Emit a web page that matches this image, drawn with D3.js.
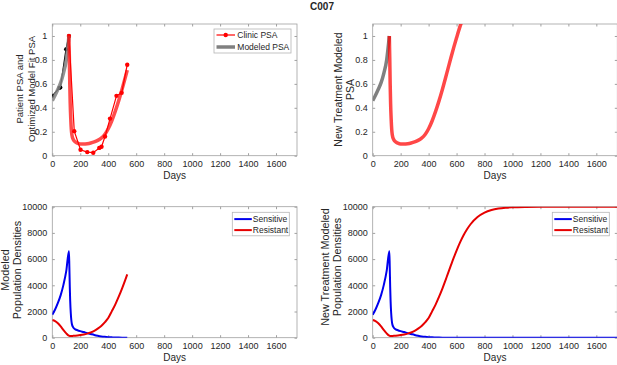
<!DOCTYPE html>
<html><head><meta charset="utf-8">
<script src="https://cdn.jsdelivr.net/npm/d3@7"></script>
<style>
body{margin:0;background:#fff}
svg{display:block}
text{font-family:"Liberation Sans",Arial,Helvetica,sans-serif;fill:#262626}
</style>
</head><body>
<svg id="c" width="617" height="365"></svg>
<script>
// ---------- data ----------
const title = "C007";
const xTicks = [0,200,400,600,800,1000,1200,1400,1600];
const psaTicks = [0,0.2,0.4,0.6,0.8,1];
const popTicks = [0,2000,4000,6000,8000,10000];

// clinic PSA (pre-treatment, black) and during treatment (red)
const clinicPreDays = [0,50,58,98,119];
const clinicPre     = [0.50,0.565,0.57,0.89,1.0];
const clinicTxDays  = [119,157,202,250,293,336,352,377,413,459,496,536];
const clinicTx      = [1.0,0.205,0.05,0.03,0.025,0.065,0.075,0.16,0.31,0.50,0.525,0.76];

// modeled PSA: pre-treatment (gray) and treatment (red)
const modelPreDays = [0,20,40,60,80,100,119];
const modelPre     = [0.46,0.505,0.555,0.61,0.69,0.80,1.0];
const modelTxDays  = [119,122,125,128,132,136,140,150,165,180,200,225,250,275,300,325,350,375,400,425,450,475,500,520,536,560,580,600,625,650];
const modelTx      = [1.0,0.82,0.60,0.44,0.31,0.22,0.175,0.135,0.115,0.105,0.098,0.097,0.10,0.106,0.115,0.128,0.147,0.177,0.225,0.29,0.37,0.46,0.56,0.645,0.715,0.82,0.905,0.985,1.08,1.16];
const fitEndDay = 536;

// modeled population densities
const popDays = [0,20,40,60,80,100,119,122,125,128,132,136,140,150,165,180,200,225,250,275,300,325,350,375,400,425,450,475,500,520,536,560,580,600,625,650,675,700,750,800,850,900,950,1000,1100,1200,1400,1750];
const sensitive = [1750,2150,2650,3250,4050,5100,6600,5400,3900,2800,1900,1350,1050,780,640,570,500,430,350,280,210,150,100,65,40,25,15,9,5,3,2,1,0,0,0,0,0,0,0,0,0,0,0,0,0,0,0,0];
const resistant = [1350,1270,1100,860,580,330,150,135,125,122,125,128,132,140,155,172,200,245,310,400,520,690,900,1170,1500,2010,2530,3130,3790,4360,4830,5535,6110,6650,7275,7820,8280,8660,9210,9545,9743,9856,9920,9955,9986,9996,10000,10000];

// ---------- drawing ----------
const svg = d3.select("#c");
const FRAME = "#a0a0a0";

svg.append("text").attr("x", 322).attr("y", 10).attr("text-anchor","middle")
  .attr("font-size", 10).attr("font-weight","bold").text(title);

let clipId = 0;
function panel(p){
  const x = d3.scaleLinear([0,1750],[p.left,p.right]);
  const y = d3.scaleLinear(p.ydom,[p.bottom,p.top]);
  const g = svg.append("g");
  const id = "clip"+(clipId++);
  svg.append("clipPath").attr("id",id).append("rect")
    .attr("x",p.left).attr("y",p.top).attr("width",p.right-p.left).attr("height",p.bottom-p.top);

  const styleAxis = sel => {
    sel.select(".domain").remove();
    sel.selectAll(".tick line").attr("stroke",FRAME);
    sel.selectAll(".tick text").attr("font-size",9).attr("fill","#262626")
      .attr("font-family",'"Liberation Sans",Arial,sans-serif');
  };
  g.append("g").attr("transform",`translate(0,${p.bottom})`)
    .call(d3.axisBottom(x).tickValues(xTicks).tickSizeInner(-2.5).tickSizeOuter(0).tickPadding(5).tickFormat(d3.format("d")))
    .call(styleAxis);
  g.append("g").attr("transform",`translate(0,${p.top})`)
    .call(d3.axisTop(x).tickValues(xTicks).tickSizeInner(-2.5).tickSizeOuter(0).tickFormat(""))
    .call(styleAxis);
  g.append("g").attr("transform",`translate(${p.left},0)`)
    .call(d3.axisLeft(y).tickValues(p.yticks).tickSizeInner(-2.5).tickSizeOuter(0).tickPadding(5).tickFormat(p.yfmt))
    .call(styleAxis);
  g.append("g").attr("transform",`translate(${p.right},0)`)
    .call(d3.axisRight(y).tickValues(p.yticks).tickSizeInner(-2.5).tickSizeOuter(0).tickFormat(""))
    .call(styleAxis);
  g.append("rect").attr("x",p.left).attr("y",p.top).attr("width",p.right-p.left).attr("height",p.bottom-p.top)
    .attr("fill","none").attr("stroke",FRAME).attr("stroke-width",0.8);

  g.append("text").attr("x",(p.left+p.right)/2).attr("y",p.bottom+23).attr("text-anchor","middle")
    .attr("font-size",10).text("Days");
  p.ylab.forEach((t,i)=>{
    g.append("text").attr("transform",`translate(${p.ylabX[i]},${p.ylabY}) rotate(-90)`)
      .attr("text-anchor","middle").attr("dominant-baseline","central").attr("font-size",p.ylabSize).text(t);
  });
  const plot = g.append("g").attr("clip-path",`url(#${id})`);
  return {x,y,g,plot};
}

function line(x,y,days,vals,curve){
  return d3.line().x((d,i)=>x(days[i])).y((d,i)=>y(vals[i])).curve(curve||d3.curveLinear)(vals);
}
function sliceUpTo(days,vals,maxDay){
  const idx = days.map((d,i)=>i).filter(i=>days[i]<=maxDay);
  return [idx.map(i=>days[i]), idx.map(i=>vals[i])];
}

const fmtPSA = d => d3.format("~g")(d);
const fmtPop = d3.format("d");

// --- top-left ---
{
  const P = panel({left:52.3,right:297,top:24,bottom:155.7,ydom:[0,1.1],yticks:psaTicks,yfmt:fmtPSA,
    ylab:["Patient PSA and","Optimized Model Fit PSA"],ylabX:[19,31.5],ylabY:89,ylabSize:9.5});
  const {x,y,plot} = P;
  plot.append("path").attr("d",line(x,y,clinicPreDays,clinicPre)).attr("fill","none").attr("stroke","#000").attr("stroke-width",1.2);
  plot.selectAll(".bp").data(clinicPre).join("circle").attr("cx",(d,i)=>x(clinicPreDays[i])).attr("cy",d=>y(d)).attr("r",2).attr("fill","#000");
  plot.append("path").attr("d",line(x,y,clinicTxDays,clinicTx)).attr("fill","none").attr("stroke","#ff0000").attr("stroke-width",1.2);
  plot.selectAll(".rp").data(clinicTx).join("circle").attr("cx",(d,i)=>x(clinicTxDays[i])).attr("cy",d=>y(d)).attr("r",2.2).attr("fill","#ff0000");
  plot.append("path").attr("d",line(x,y,modelPreDays,modelPre,d3.curveMonotoneX)).attr("fill","none").attr("stroke","#808080").attr("stroke-opacity",0.85).attr("stroke-width",3.5);
  const [fd,fv] = sliceUpTo(modelTxDays,modelTx,fitEndDay);
  plot.append("path").attr("d",line(x,y,fd,fv,d3.curveMonotoneX)).attr("fill","none").attr("stroke","#ff0000").attr("stroke-opacity",0.7).attr("stroke-width",3.5).attr("stroke-linejoin","round");

  const L = svg.append("g");
  L.append("rect").attr("x",214).attr("y",29).attr("width",77).attr("height",24).attr("fill","#fff").attr("stroke","#b5b5b5").attr("stroke-width",0.8);
  L.append("line").attr("x1",216.5).attr("x2",235).attr("y1",35).attr("y2",35).attr("stroke","#ff0000").attr("stroke-width",1.2);
  L.append("circle").attr("cx",225.7).attr("cy",35).attr("r",2.2).attr("fill","#ff0000");
  L.append("text").attr("x",237.3).attr("y",35).attr("dominant-baseline","central").attr("font-size",8.5).text("Clinic PSA");
  L.append("line").attr("x1",216.5).attr("x2",235).attr("y1",47).attr("y2",47).attr("stroke","#808080").attr("stroke-width",3.5);
  L.append("text").attr("x",237.3).attr("y",47).attr("dominant-baseline","central").attr("font-size",8.5).text("Modeled PSA");
}

// --- top-right ---
{
  const P = panel({left:372.7,right:617.3,top:24,bottom:155.7,ydom:[0,1.1],yticks:psaTicks,yfmt:fmtPSA,
    ylab:["New Treatment Modeled","PSA"],ylabX:[338,350],ylabY:89.5,ylabSize:10.5});
  const {x,y,plot} = P;
  plot.append("path").attr("d",line(x,y,modelPreDays,modelPre,d3.curveMonotoneX)).attr("fill","none").attr("stroke","#808080").attr("stroke-width",3.5);
  plot.append("path").attr("d",line(x,y,modelTxDays,modelTx,d3.curveMonotoneX)).attr("fill","none").attr("stroke","#ff0000").attr("stroke-opacity",0.72).attr("stroke-width",3.5).attr("stroke-linejoin","round");
}

function popLegend(x0,y0){
  const L = svg.append("g");
  L.append("rect").attr("x",x0).attr("y",y0).attr("width",57).attr("height",23.5).attr("fill","#fff").attr("stroke","#b5b5b5").attr("stroke-width",0.8);
  [["Sensitive","#0000ee",y0+6.8],["Resistant","#e60000",y0+17.8]].forEach(([t,c,yy])=>{
    L.append("line").attr("x1",x0+2).attr("x2",x0+19.5).attr("y1",yy).attr("y2",yy).attr("stroke",c).attr("stroke-width",2);
    L.append("text").attr("x",x0+20.5).attr("y",yy).attr("dominant-baseline","central").attr("font-size",8.5).text(t);
  });
}

// --- bottom-left ---
{
  const P = panel({left:52.3,right:297,top:206.7,bottom:337.7,ydom:[0,10000],yticks:popTicks,yfmt:fmtPop,
    ylab:["Modeled","Population Densities"],ylabX:[5,17],ylabY:270,ylabSize:10.8});
  const {x,y,plot} = P;
  const [sd,sv] = sliceUpTo(popDays,sensitive,fitEndDay);
  const [rd,rv] = sliceUpTo(popDays,resistant,fitEndDay);
  plot.append("path").attr("d",line(x,y,sd,sv,d3.curveMonotoneX)).attr("fill","none").attr("stroke","#0000ee").attr("stroke-width",2);
  plot.append("path").attr("d",line(x,y,rd,rv,d3.curveMonotoneX)).attr("fill","none").attr("stroke","#e60000").attr("stroke-width",2);
  popLegend(232.3,212.3);
}

// --- bottom-right ---
{
  const P = panel({left:372.7,right:617.3,top:206.7,bottom:337.7,ydom:[0,10000],yticks:popTicks,yfmt:fmtPop,
    ylab:["New Treatment Modeled","Population Densities"],ylabX:[324.5,337],ylabY:267,ylabSize:10.8});
  const {x,y,plot} = P;
  plot.append("path").attr("d",line(x,y,popDays,sensitive,d3.curveMonotoneX)).attr("fill","none").attr("stroke","#0000ee").attr("stroke-width",2);
  plot.append("path").attr("d",line(x,y,popDays,resistant,d3.curveMonotoneX)).attr("fill","none").attr("stroke","#e60000").attr("stroke-width",2);
  popLegend(552.3,212.3);
}
</script>
</body></html>
